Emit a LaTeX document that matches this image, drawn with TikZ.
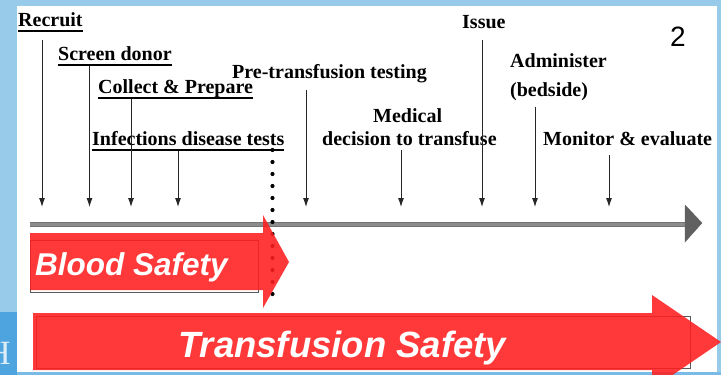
\documentclass[tikz,border=0pt]{standalone}
\usepackage{fontspec}
\setmainfont{Liberation Serif}
\newfontfamily\arialfont{Liberation Sans}
\usetikzlibrary{arrows.meta}

\definecolor{skyblue}{RGB}{152,202,234}
\definecolor{deepblue}{RGB}{78,164,222}
\definecolor{safetyred}{RGB}{255,30,30}

% underlined step name
\newcommand{\ultext}[1]{\setbox0=\hbox{#1}\rlap{\vrule height -3.5pt depth 5.5pt width \wd0}\box0}

\tikzset{
  steplabel/.style={anchor=base west, inner sep=0pt, font=\fontsize{20}{23}\selectfont\bfseries},
  tick/.style={draw=black!85, line width=0.9pt, -{Latex[length=9pt,width=6pt]}},
  redarrow/.style={fill=safetyred, fill opacity=0.88, draw=none},
  safetytext/.style={anchor=base west, inner sep=0pt, text=white, font=\arialfont\fontsize{31.5}{36}\selectfont\bfseries\itshape},
}

\begin{document}
\begin{tikzpicture}[x=1pt,y=1pt,yscale=-1]
\useasboundingbox (0,0) rectangle (721,375);
\clip (0,0) rectangle (721,375);

%Background
\fill[skyblue] (0,0) rectangle (721,375);
\fill[deepblue] (0,312) rectangle (17,375);
\node[anchor=base west, inner sep=0pt, text=white!80!deepblue, font=\fontsize{34}{34}\selectfont] (hcut) at (-14,364) {H};
\fill[white] (17,6) rectangle (717,372);
\fill[skyblue!60!deepblue] (17,372) rectangle (721,375);

% Text Node
\node[steplabel] (recruit) at (18,26) {\ultext{Recruit}};
\node[steplabel] (screen) at (58,60) {\ultext{Screen donor}};
\node[steplabel] (collect) at (98,93) {\ultext{Collect \& Prepare}};
\node[steplabel] (infect) at (92,145) {\ultext{Infections disease tests}};
\node[steplabel] (pretest) at (232,78) {Pre-transfusion testing};
\node[steplabel] (medical) at (373,122) {Medical};
\node[steplabel] (decision) at (322,145) {decision to transfuse};
\node[steplabel] (issue) at (462,28) {Issue};
\node[steplabel] (admin) at (510,67) {Administer};
\node[steplabel] (bedside) at (510,96) {(bedside)};
\node[steplabel] (monitor) at (543,145) {Monitor \& evaluate};
\node[anchor=base west, inner sep=0pt, font=\arialfont\fontsize{28}{28}\selectfont] (slideno) at (670,46) {2};

%Time line
\coordinate (tstart) at (30,224);
\coordinate (tend) at (686,224);
\draw[line width=5pt, black!55] (tstart) -- (tend);
\draw[line width=3pt, gray!90] (tstart) -- (tend);
\filldraw[fill=gray!75!black, draw=black!60, line join=round] (685,205) -- (702,223) -- (685,242) -- cycle;

%Straight Lines
\coordinate (e1) at (42,207);
\coordinate (e2) at (89.5,207);
\coordinate (e3) at (131,207);
\coordinate (e4) at (178,207);
\coordinate (e5) at (306,207);
\coordinate (e6) at (401,207);
\coordinate (e7) at (482,207);
\coordinate (e8) at (535,207);
\coordinate (e9) at (609,207);
\draw[tick, shorten <=8pt] (e1 |- recruit.south) -- (e1);
\draw[tick] (e2 |- screen.south) -- (e2);
\draw[tick] (e3 |- collect.south) -- (e3);
\draw[tick] (e4 |- infect.south) -- (e4);
\draw[tick, shorten <=7pt] (e5 |- pretest.south) -- (e5);
\draw[tick, shorten <=5pt] (e6 |- decision.south) -- (e6);
\draw[tick, shorten <=12pt] (e7 |- issue.south) -- (e7);
\draw[tick, shorten <=7pt] (e8 |- bedside.south) -- (e8);
\draw[tick, shorten <=10pt] (e9 |- monitor.south) -- (e9);

%Dotted line
\coordinate (dtop) at (272.5,150);
\coordinate (dbot) at (272.5,303);
\draw[line width=4.2pt, line cap=round, dash pattern=on 0pt off 12pt] (dtop) -- (dbot);

%Shape: Blood Safety arrow
\draw[gray!70!black, line width=1pt] (30,240) rectangle (258,292);
\fill[redarrow] (30,233) -- (263,233) -- (263,215) -- (289,262) -- (263,308) -- (263,290) -- (30,290) -- cycle;
\node[safetytext] (blood) at (35,275) {Blood Safety};

%Shape: Transfusion Safety arrow
\draw[gray!70!black, line width=1pt] (36,316) rectangle (690,368);
\fill[redarrow] (33,313) -- (652,313) -- (652,295) -- (721,342) -- (652,389) -- (652,370) -- (33,370) -- cycle;
\node[safetytext, font=\arialfont\fontsize{36.5}{40}\selectfont\bfseries\itshape] (transfusion) at (178,357) {Transfusion Safety};

\end{tikzpicture}
\end{document}
